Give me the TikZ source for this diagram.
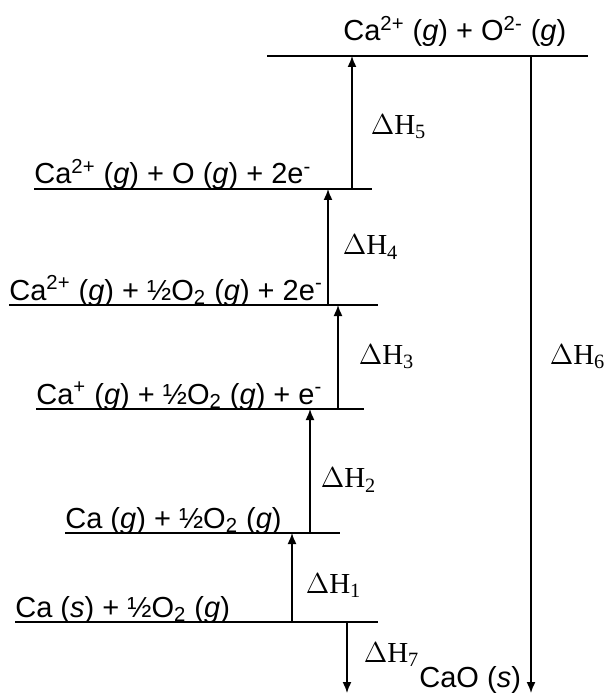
\documentclass[tikz,border=0pt]{standalone}
\usepackage{fontspec}
\setmainfont{Liberation Sans}
\newfontfamily\dhfont{Liberation Serif}
\usetikzlibrary{arrows.meta}

\def\half{½O\textsubscript{2}}

\begin{document}
\begin{tikzpicture}[x=0.5pt,y=-0.5pt,
    species/.style={font=\fontsize{14.5}{17}\selectfont,inner sep=0pt,anchor=base west},
    dh/.style={font=\dhfont\fontsize{14.5}{16}\selectfont,inner sep=0pt,anchor=west},
    level/.style={line width=1.1pt},
    jump/.style={line width=0.75pt,-{Latex[length=5.5pt,width=4.5pt]}}]
  \useasboundingbox (0,0) rectangle (604,695);

  % species on each level
  \node[species] (S0) at (343,41) {Ca\textsuperscript{2+} (\textit{g}) + O\textsuperscript{2-} (\textit{g})};
  \node[species] (S5) at (34,184) {Ca\textsuperscript{2+} (\textit{g}) + O (\textit{g}) + 2e\textsuperscript{-}};
  \node[species] (S4) at (9,300) {Ca\textsuperscript{2+} (\textit{g}) + \half{} (\textit{g}) + 2e\textsuperscript{-}};
  \node[species] (S3) at (36,404) {Ca\textsuperscript{+} (\textit{g}) + \half{} (\textit{g}) + e\textsuperscript{-}};
  \node[species] (S2) at (65,528) {Ca (\textit{g}) + \half{} (\textit{g})};
  \node[species] (S1) at (15,617) {Ca (\textit{s}) + \half{} (\textit{g})};
  \node[species] (S7) at (419,687) {CaO (\textit{s})};

  % level lines
  \coordinate (E0) at (588,56);
  \coordinate (E5) at (372,189);
  \coordinate (E4) at (378,305);
  \coordinate (E3) at (364,409);
  \coordinate (E2) at (340,533);
  \coordinate (E1) at (378,622);
  \draw[level] (267,56) -- (E0);
  \foreach \n in {1,...,5}
    \draw[level] (S\n.base west |- E\n) -- (E\n);

  % arrows
  \coordinate (a1) at (292,622);
  \coordinate (a2) at (310,533);
  \coordinate (a3) at (338,409);
  \coordinate (a4) at (328,305);
  \coordinate (a5) at (352,189);
  \coordinate (a6) at (531,56);
  \coordinate (a7) at (347,622);
  \coordinate (b7) at (347,693);

  \draw[jump] (a1) -- node[dh,right=6.5pt,yshift=-4pt] {$\Delta$H\textsubscript{1}} (a1 |- E2);
  \draw[jump] (a2) -- node[dh,right=5pt,yshift=-4.5pt] {$\Delta$H\textsubscript{2}} (a2 |- E3);
  \draw[jump] (a3) -- node[dh,right=10pt] {$\Delta$H\textsubscript{3}} (a3 |- E4);
  \draw[jump] (a4) -- node[dh,right=7pt] {$\Delta$H\textsubscript{4}} (a4 |- E5);
  \draw[jump] (a5) -- node[dh,right=9pt,yshift=-2pt] {$\Delta$H\textsubscript{5}} (a5 |- E0);
  \draw[jump] (a6) -- node[dh,right=9pt,yshift=9pt] {$\Delta$H\textsubscript{6}} (a6 |- b7);
  \draw[jump] (a7) -- node[dh,right=8pt,yshift=1.5pt] {$\Delta$H\textsubscript{7}} (b7);
\end{tikzpicture}
\end{document}
